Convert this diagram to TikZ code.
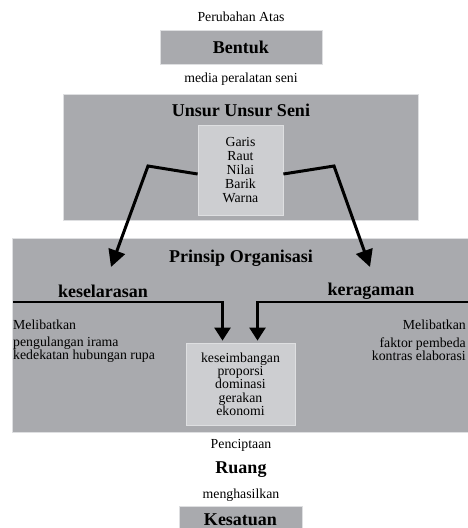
\documentclass[tikz,border=0pt]{standalone}
\usepackage{fontspec}
\setmainfont{Liberation Serif}
\usetikzlibrary{arrows.meta}
\definecolor{abuTua}{RGB}{169,170,174}
\definecolor{abuMuda}{RGB}{205,206,209}
\definecolor{tepi}{RGB}{222,223,225}
\newcommand{\teks}{\fontsize{13.8}{13.3}\selectfont}
\newcommand{\judul}{\fontsize{18}{20}\selectfont\bfseries}

\begin{document}
\begin{tikzpicture}[x=1pt,y=1pt,yscale=-1,xscale=1,
  kotak/.style={fill=abuTua, draw=tepi, line width=0.8pt, inner sep=0pt},
  isi/.style={fill=abuMuda, draw=tepi, line width=0.8pt, inner sep=0pt, align=center, font=\teks},
  tulisan/.style={inner sep=0pt, font=\teks},
  panah/.style={line width=3pt, -{Triangle[length=17pt,width=17pt]}},
  panahkecil/.style={line width=2.5pt, -{Triangle[length=13pt,width=16pt]}, shorten >=2pt}]
\useasboundingbox (0,0) rectangle (468,528);

%Shape: Rectangle
\node [kotak, minimum width=162, minimum height=34] (bentuk) at (241,47) {\judul Bentuk};
%Shape: Rectangle
\node [kotak, minimum width=355, minimum height=126] (unsur) at (240.5,157) {};
%Shape: Rectangle
\node [kotak, minimum width=458, minimum height=194] (prinsip) at (241,335) {};
%Shape: Rectangle
\node [kotak, minimum width=123, minimum height=22] (kesatuan) at (240.5,517) {};

% Text Node
\node [tulisan] (perubahan) at (241,17) {Perubahan Atas};
% Text Node
\node [tulisan] (media) at (241,79) {media peralatan seni};
% Text Node
\node [inner sep=0pt] (judulUnsur) at (241,110) {\judul Unsur Unsur Seni};
% Text Node
\node [isi, minimum width=85, minimum height=90, font=\fontsize{13.8}{14}\selectfont] (isiUnsur) at (240.5,170) {Garis\\Raut\\Nilai\\Barik\\Warna};
% Text Node
\node [inner sep=0pt] (judulPrinsip) at (241,258) {\judul Prinsip Organisasi};
% Text Node
\node [inner sep=0pt] (selaras) at (103,291) {\judul keselarasan};
% Text Node
\node [inner sep=0pt] (ragam) at (371,291) {\judul keragaman};
% Text Node
\node [tulisan, anchor=west] (libatKiri) at (13,325) {Melibatkan};
% Text Node
\node [tulisan, anchor=west, align=left] (isiKiri) at (13,349.5) {pengulangan irama\\kedekatan hubungan rupa};
% Text Node
\node [tulisan, anchor=east] (libatKanan) at (466,325) {Melibatkan};
% Text Node
\node [tulisan, anchor=east, align=right] (isiKanan) at (466,349.5) {faktor pembeda\\kontras elaborasi};
% Text Node
\node [isi, minimum width=109, minimum height=82] (isiPrinsip) at (240.5,384) {keseimbangan\\proporsi\\dominasi\\gerakan\\ekonomi};
% Text Node
\node [tulisan] (cipta) at (241,445) {Penciptaan};
% Text Node
\node [inner sep=0pt] (ruang) at (241,470) {\judul Ruang};
% Text Node
\node [tulisan] (hasil) at (241,495) {menghasilkan};
% Text Node
\node [inner sep=0pt] (judulKesatuan) at (240.5,519.5) {\judul Kesatuan};

\coordinate (tekukKiri) at (148,166);
\coordinate (ujungKiri) at (111,267);
\coordinate (tekukKanan) at (334,166);
\coordinate (ujungKanan) at (370,267);
\coordinate (awalSelaras) at (13,302);
\coordinate (awalRagam) at (468,302);

%Straight Lines
\draw [panah] ([yshift=4pt]isiUnsur.west) -- (tekukKiri) -- (ujungKiri);
%Straight Lines
\draw [panah] ([yshift=4pt]isiUnsur.east) -- (tekukKanan) -- (ujungKanan);
%Straight Lines
\draw [panahkecil] (awalSelaras) -| ([xshift=-18pt]isiPrinsip.north);
%Straight Lines
\draw [panahkecil] (awalRagam) -| ([xshift=17pt]isiPrinsip.north);

\end{tikzpicture}
\end{document}
